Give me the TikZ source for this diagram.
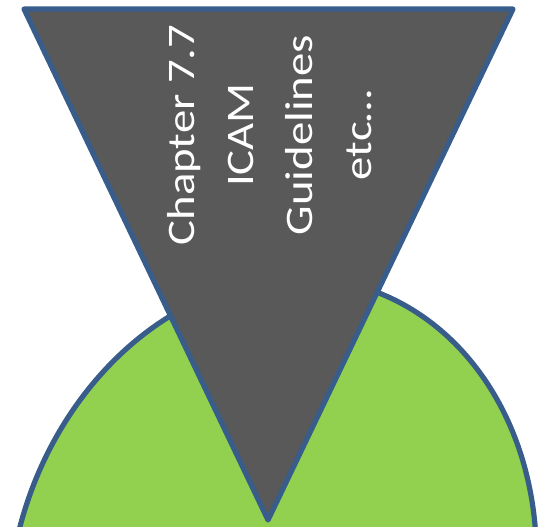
\documentclass[tikz,border=0pt]{standalone}
\usepackage{fontspec}
\setmainfont{Carlito}
\definecolor{shapegreen}{HTML}{92D050}
\definecolor{shapeblue}{HTML}{385D8A}
\definecolor{shapegray}{HTML}{595959}
\tikzset{
  outline/.style={draw=shapeblue, line width=5.2pt, line join=round},
  labeltext/.style={text=white, align=center, inner sep=0pt,
    font={\fontsize{39}{59}\selectfont}}
}
\begin{document}
\begin{tikzpicture}[x=1pt, y=-1pt]
\useasboundingbox (0,0) rectangle (539,527);
\clip (0,0) rectangle (539,527);
% green tilted ellipse
\coordinate (ec) at (272,590);
\path[outline, fill=shapegreen, shift={(ec)}, xslant=0.088]
  (0,0) ellipse [x radius=263, y radius=312];
% inverted triangle
\coordinate (tl) at (24,9);
\coordinate (tr) at (513,9);
\coordinate (tb) at (268,520);
\path[outline, fill=shapegray] (tl) -- (tr) -- (tb) -- cycle;
% rotated text
\begin{scope}[shift={(270,135)}, rotate=90, xscale=1.2]
  \node[labeltext, transform shape] (txt) at (0,0)
    {Chapter 7.7\\ICAM\\Guidelines\\etc…};
\end{scope}
\end{tikzpicture}
\end{document}
